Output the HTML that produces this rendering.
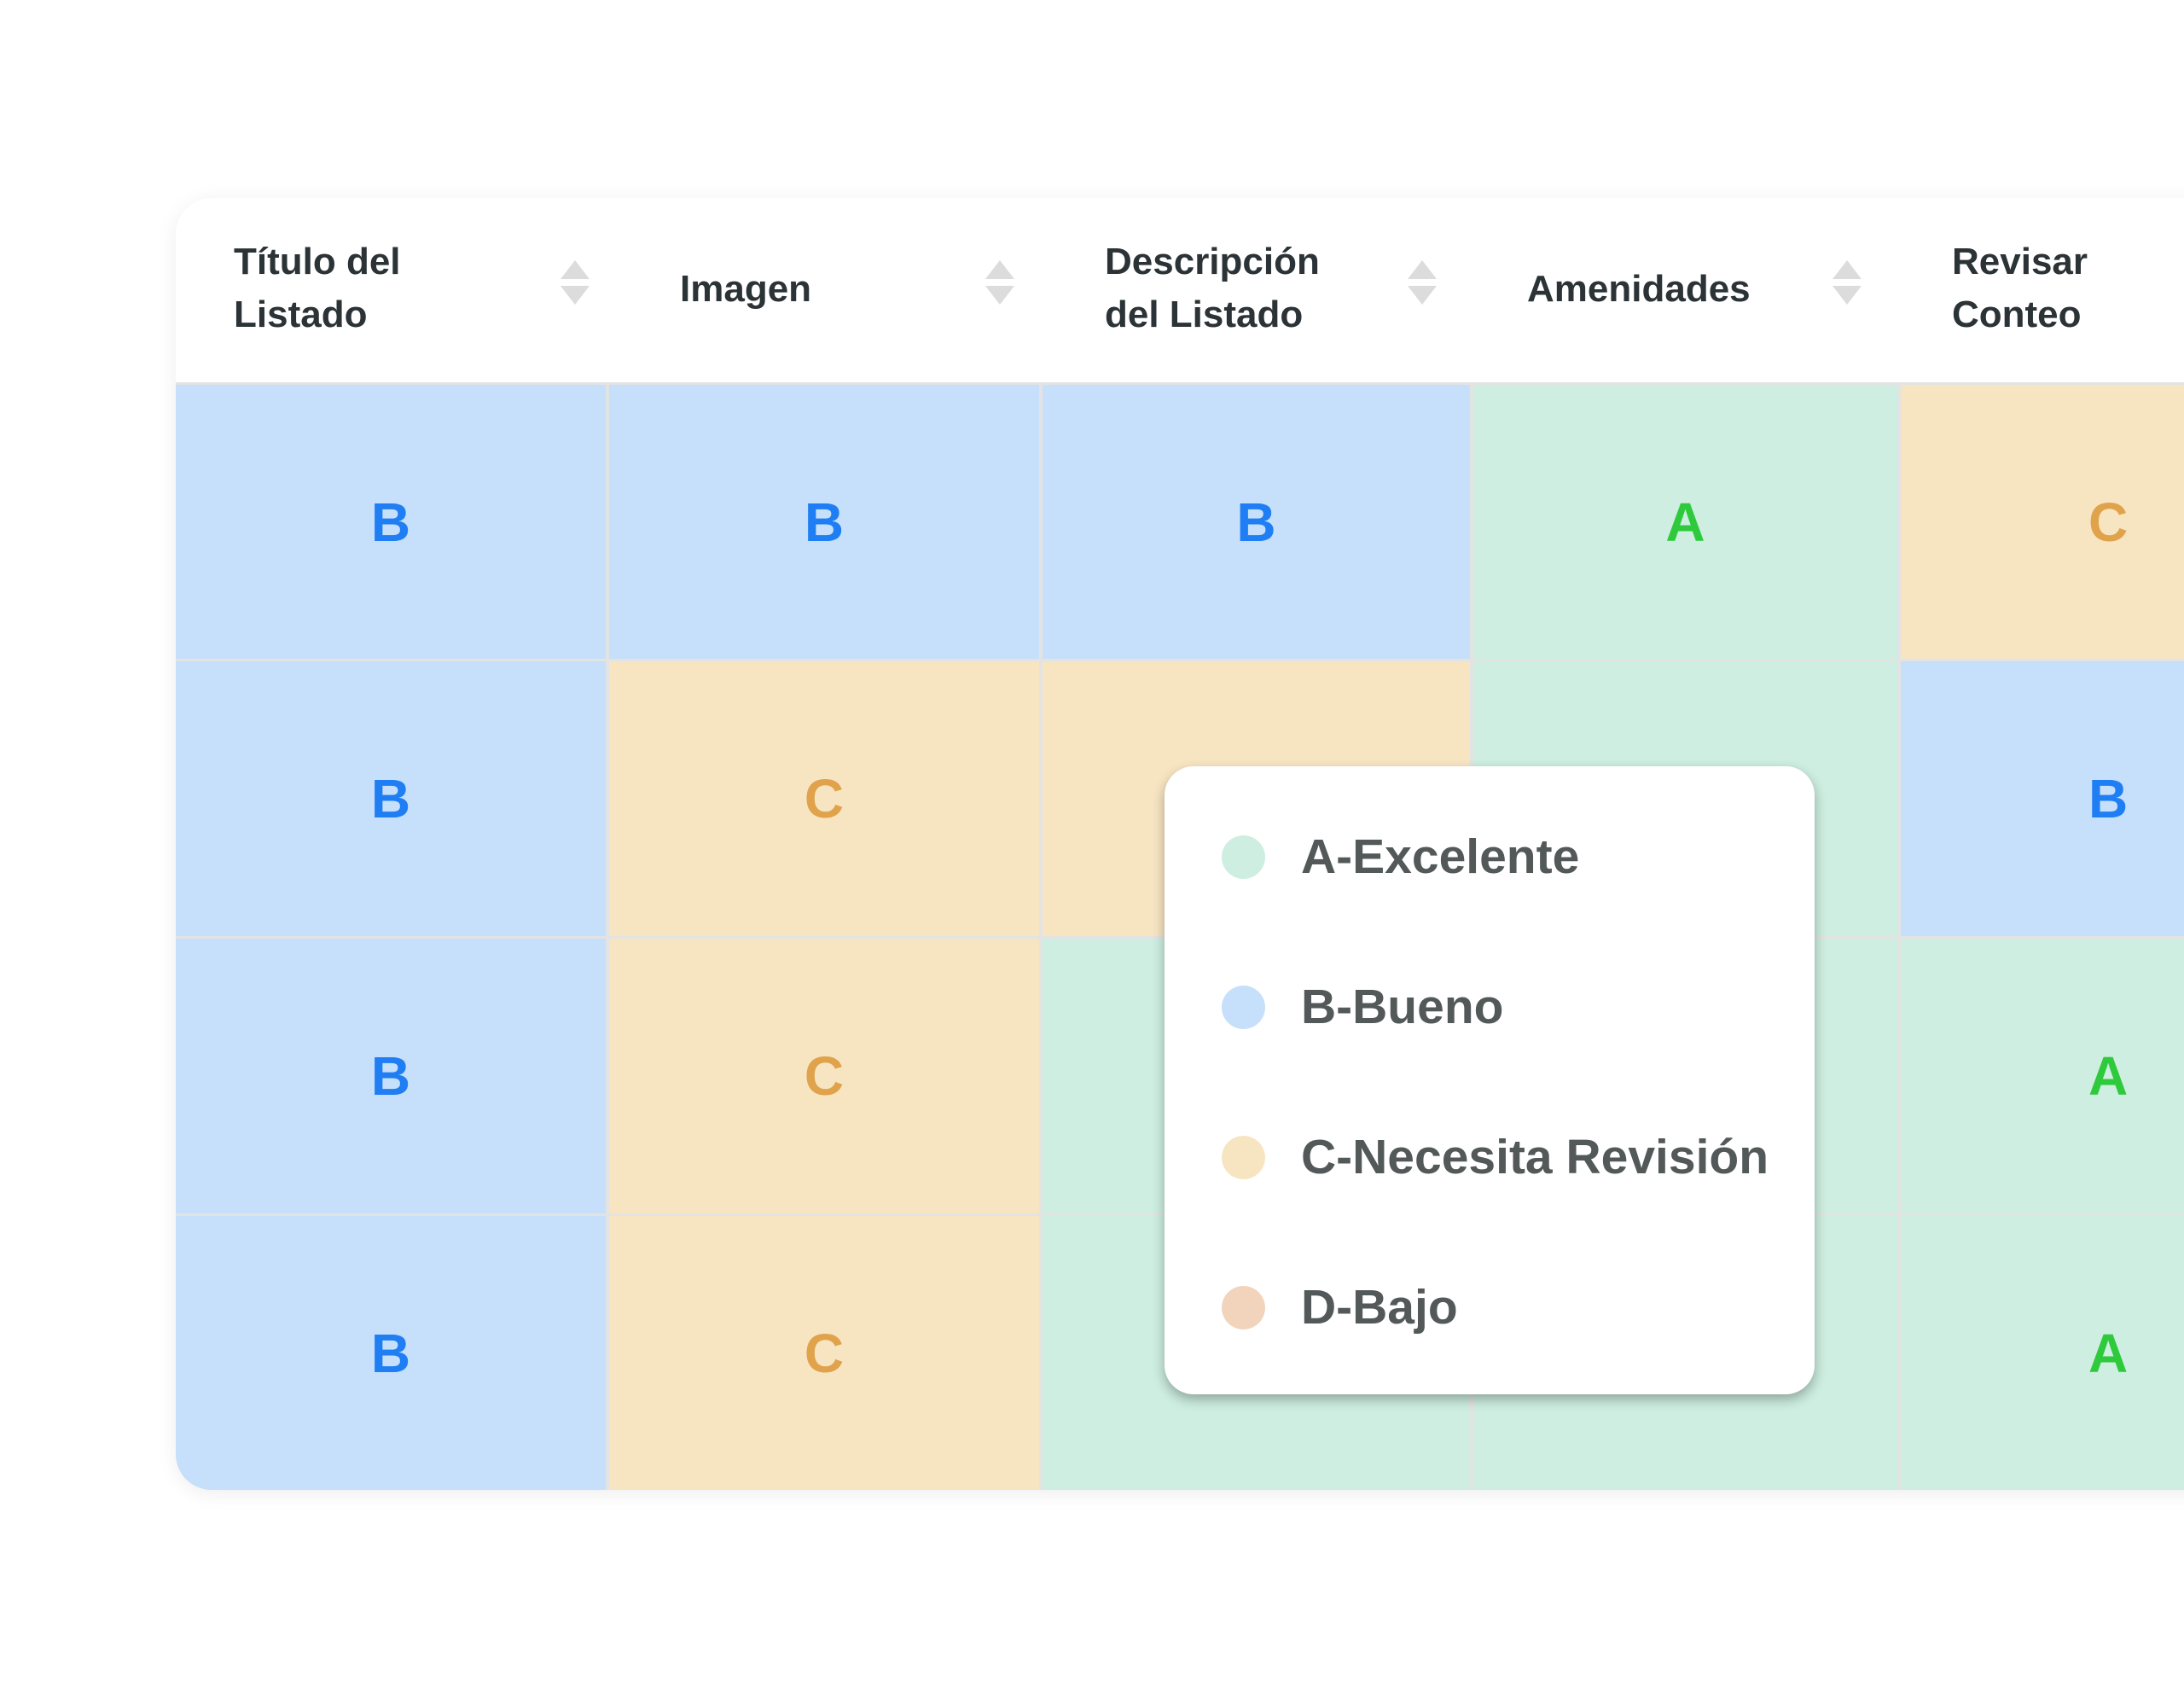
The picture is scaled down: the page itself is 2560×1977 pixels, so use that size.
<!DOCTYPE html>
<html><head><meta charset="utf-8"><style>
*{margin:0;padding:0;box-sizing:border-box}
body{width:2560px;height:1977px;background:#fff;position:relative;overflow:hidden;font-family:"Liberation Sans",sans-serif}
.card{position:absolute;left:206px;top:232px;width:2460px;height:1514px;border-radius:42px;background:#fff;box-shadow:0 4px 24px rgba(0,0,0,0.07);overflow:hidden}
.h{position:absolute;font-size:44px;font-weight:bold;color:#2b3337;line-height:62px}
.ar{position:absolute;width:34px;height:52px}
.c{position:absolute;display:flex;align-items:center;justify-content:center;font-size:64px;font-weight:bold}
.bl{background:#c6dffa;color:#1f7ef3}
.pe{background:#f7e5c2;color:#e0a34c}
.gr{background:#cdeee0;color:#2fc93c}
.legend{position:absolute;left:1365px;top:898px;width:762px;height:736px;background:#fff;border-radius:34px;box-shadow:0 6px 14px rgba(0,0,0,0.3)}
.li{position:absolute;left:0;display:flex;align-items:center;font-size:57px;font-weight:bold;color:#535858}
.dot{width:51px;height:51px;border-radius:50%;margin-left:67px;margin-right:42px}
</style></head><body>
<div class="card">
  <div class="h" style="left:68px;top:44px">Título del<br>Listado</div>
  <div class="h" style="left:591px;top:76px">Imagen</div>
  <div class="h" style="left:1089px;top:44px">Descripción<br>del Listado</div>
  <div class="h" style="left:1584px;top:76px">Amenidades</div>
  <div class="h" style="left:2082px;top:44px">Revisar<br>Conteo</div>
  <svg class="ar" style="left:451px;top:73px" viewBox="0 0 34 52"><polygon points="17,0 34,22 0,22" fill="#dcdcdc"/><polygon points="0,30 34,30 17,52" fill="#dcdcdc"/></svg>
  <svg class="ar" style="left:949px;top:73px" viewBox="0 0 34 52"><polygon points="17,0 34,22 0,22" fill="#dcdcdc"/><polygon points="0,30 34,30 17,52" fill="#dcdcdc"/></svg>
  <svg class="ar" style="left:1444px;top:73px" viewBox="0 0 34 52"><polygon points="17,0 34,22 0,22" fill="#dcdcdc"/><polygon points="0,30 34,30 17,52" fill="#dcdcdc"/></svg>
  <svg class="ar" style="left:1942px;top:73px" viewBox="0 0 34 52"><polygon points="17,0 34,22 0,22" fill="#dcdcdc"/><polygon points="0,30 34,30 17,52" fill="#dcdcdc"/></svg>
  <div style="position:absolute;left:0;top:216px;width:2460px;height:1300px;background:#e3e3e3"></div>
  <div class="c bl" style="left:0;top:219px;width:504px;height:321px">B</div>
  <div class="c bl" style="left:508px;top:219px;width:504px;height:321px">B</div>
  <div class="c bl" style="left:1016px;top:219px;width:501px;height:321px">B</div>
  <div class="c gr" style="left:1521px;top:219px;width:497px;height:321px">A</div>
  <div class="c pe" style="left:2022px;top:219px;width:440px;height:321px;justify-content:flex-start;padding-left:220px">C</div>
  <div class="c bl" style="left:0;top:543px;width:504px;height:322px">B</div>
  <div class="c pe" style="left:508px;top:543px;width:504px;height:322px">C</div>
  <div class="c pe" style="left:1016px;top:543px;width:501px;height:322px"></div>
  <div class="c gr" style="left:1521px;top:543px;width:497px;height:322px"></div>
  <div class="c bl" style="left:2022px;top:543px;width:440px;height:322px;justify-content:flex-start;padding-left:220px">B</div>
  <div class="c bl" style="left:0;top:868px;width:504px;height:322px">B</div>
  <div class="c pe" style="left:508px;top:868px;width:504px;height:322px">C</div>
  <div class="c gr" style="left:1016px;top:868px;width:501px;height:322px"></div>
  <div class="c gr" style="left:1521px;top:868px;width:497px;height:322px"></div>
  <div class="c gr" style="left:2022px;top:868px;width:440px;height:322px;justify-content:flex-start;padding-left:220px">A</div>
  <div class="c bl" style="left:0;top:1193px;width:504px;height:321px">B</div>
  <div class="c pe" style="left:508px;top:1193px;width:504px;height:321px">C</div>
  <div class="c gr" style="left:1016px;top:1193px;width:501px;height:321px"></div>
  <div class="c gr" style="left:1521px;top:1193px;width:497px;height:321px"></div>
  <div class="c gr" style="left:2022px;top:1193px;width:440px;height:321px;justify-content:flex-start;padding-left:220px">A</div>
</div>
<div class="legend">
  <div class="li" style="top:76px;height:60px"><div class="dot" style="background:#cdeee0"></div>A-Excelente</div>
  <div class="li" style="top:252px;height:60px"><div class="dot" style="background:#c6dffa"></div>B-Bueno</div>
  <div class="li" style="top:428px;height:60px"><div class="dot" style="background:#f7e5c2"></div>C-Necesita Revisión</div>
  <div class="li" style="top:604px;height:60px"><div class="dot" style="background:#f1d4bb"></div>D-Bajo</div>
</div>
</body></html>
